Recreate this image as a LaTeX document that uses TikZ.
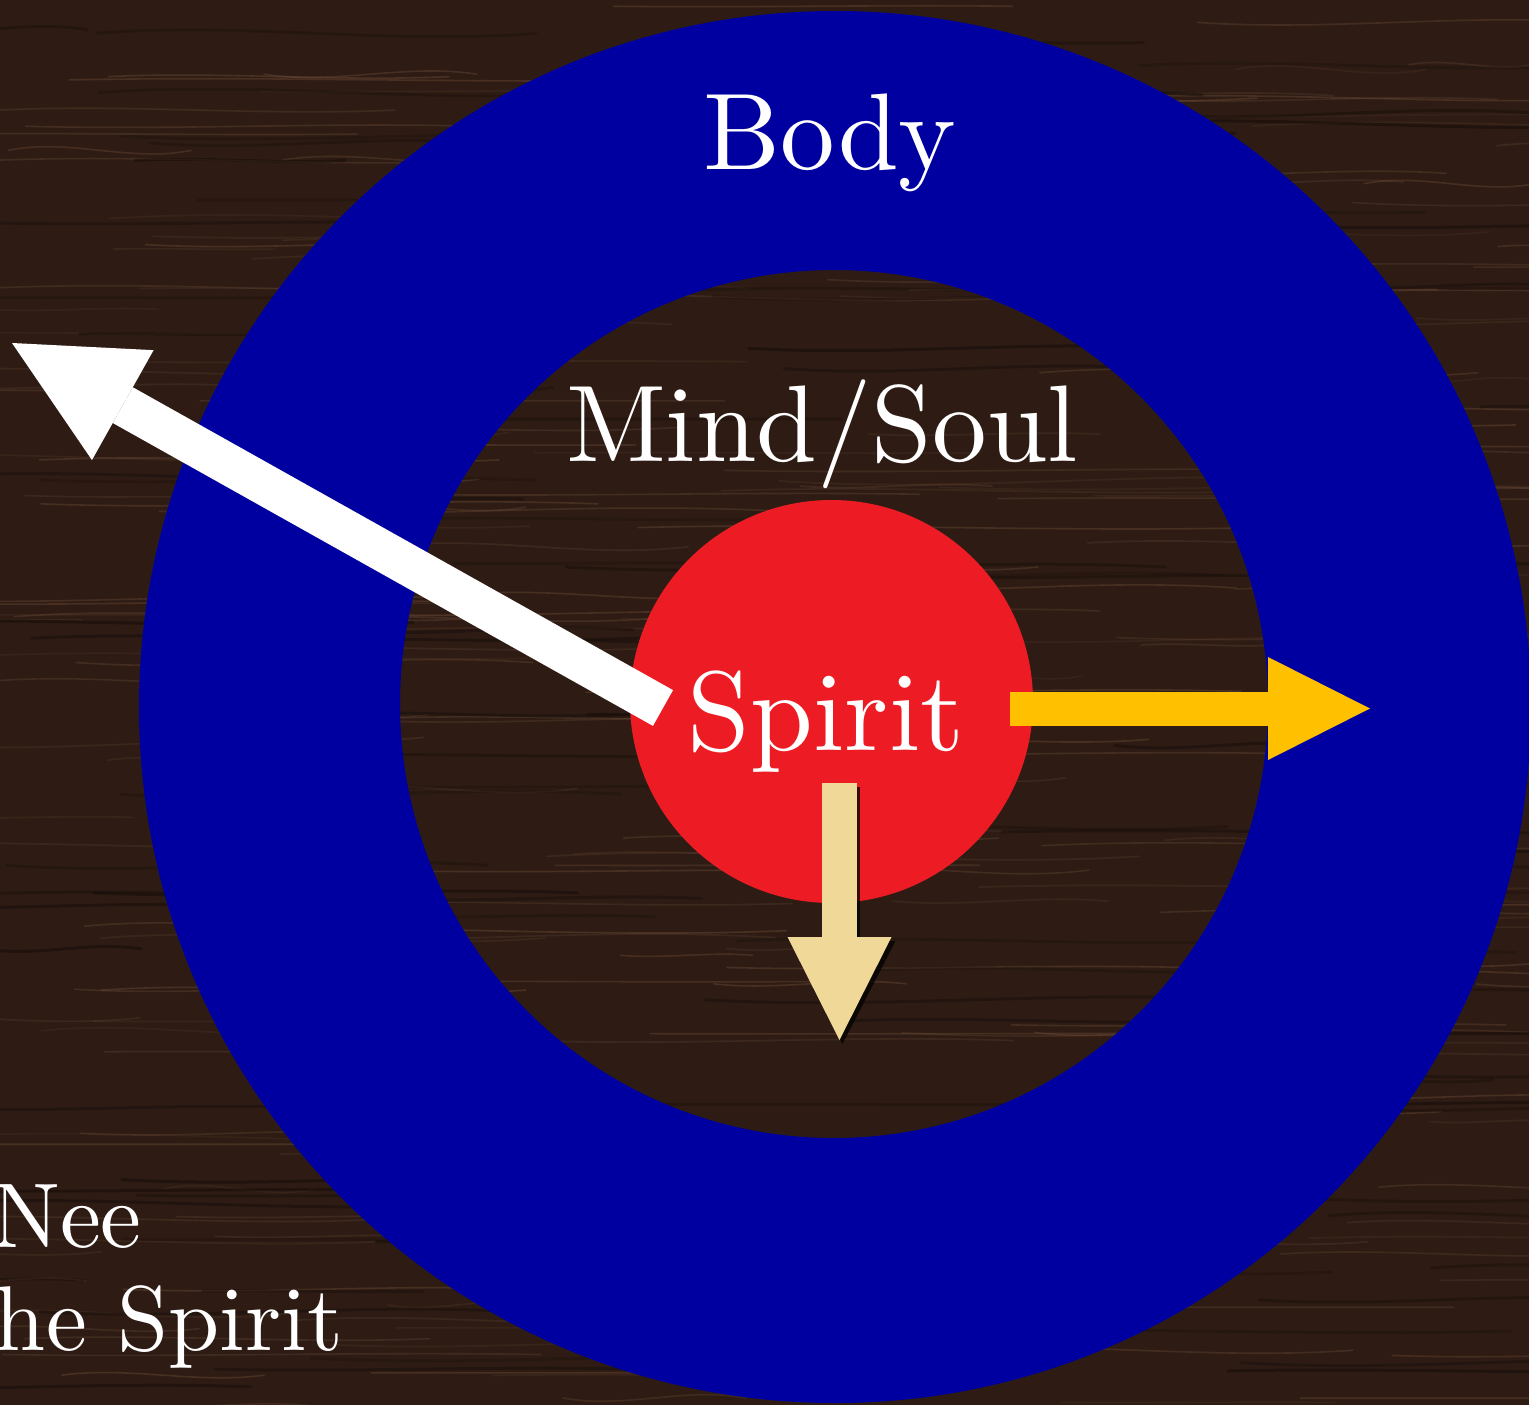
\documentclass[tikz,border=0pt]{standalone}
\usepackage{graphicx}
\usetikzlibrary{arrows.meta}
\definecolor{woodbg}{RGB}{46,28,20}
\definecolor{grainc}{RGB}{130,92,68}
\definecolor{graind}{RGB}{20,12,8}
\definecolor{ringblue}{RGB}{0,0,160}
\definecolor{spiritred}{RGB}{237,28,36}
\definecolor{arrowyellow}{RGB}{255,192,0}
\definecolor{arrowbeige}{RGB}{240,216,152}
\tikzset{
  grain/.style={grainc, line width=1.6pt, line cap=round},
  graindark/.style={graind, line width=3pt, line cap=round},
  biglabel/.style={text=white, inner sep=0pt, anchor=base, font=\fontsize{10}{12}\selectfont},
  smalllabel/.style={text=white, inner sep=0pt, anchor=base east, font=\fontsize{10}{12}\selectfont},
  fatarrow/.style={line cap=butt},
}
\begin{document}
\begin{tikzpicture}[x=1pt,y=-1pt]
\useasboundingbox (0,0) rectangle (1529,1405);
\clip (0,0) rectangle (1529,1405);
% wood background
\fill[woodbg] (0,0) rectangle (1529,1405);
\pgfmathsetseed{4242}
\foreach \i in {1,...,230}{
  \pgfmathsetmacro\xa{rnd*1700-200}
  \pgfmathsetmacro\ya{rnd*1420}
  \pgfmathsetmacro\ll{120+rnd*520}
  \pgfmathsetmacro\dd{(rnd-0.5)*26}
  \pgfmathsetmacro\op{0.10+rnd*0.22}
  \pgfmathsetmacro\xb{\xa+\ll/3}
  \pgfmathsetmacro\xc{\xa+2*\ll/3}
  \pgfmathsetmacro\xd{\xa+\ll}
  \pgfmathsetmacro\yb{\ya+\dd}
  \pgfmathsetmacro\yc{\ya-\dd}
  \draw[grain, opacity=\op] (\xa,\ya) .. controls (\xb,\yb) and (\xc,\yc) .. (\xd,\ya);
}
\foreach \i in {1,...,110}{
  \pgfmathsetmacro\xa{rnd*1700-200}
  \pgfmathsetmacro\ya{rnd*1420}
  \pgfmathsetmacro\ll{150+rnd*500}
  \pgfmathsetmacro\dd{(rnd-0.5)*24}
  \pgfmathsetmacro\op{0.25+rnd*0.3}
  \pgfmathsetmacro\xb{\xa+\ll/3}
  \pgfmathsetmacro\xc{\xa+2*\ll/3}
  \pgfmathsetmacro\xd{\xa+\ll}
  \pgfmathsetmacro\yb{\ya+\dd}
  \pgfmathsetmacro\yc{\ya-\dd}
  \draw[graindark, opacity=\op] (\xa,\ya) .. controls (\xb,\yb) and (\xc,\yc) .. (\xd,\ya);
}
% rings
\fill[ringblue, even odd rule] (835,707) circle[radius=696] (834,704) circle[radius=434];
\fill[spiritred] (831.5,701.5) circle[radius=201.5];
% arrows
\coordinate (wstart) at (663,708);
\coordinate (wtip) at (12,343);
\coordinate (ystart) at (1010,708.5);
\coordinate (ytip) at (1370,708.5);
\coordinate (bstart) at (839.5,783);
\coordinate (btip) at (839.5,1040);
\coordinate (bshstart) at (842.5,787);
\coordinate (bshtip) at (842.5,1044);
\draw[fatarrow, white, line width=41pt, -{Triangle[length=127pt,width=126pt,line width=0pt]}] (wstart) -- (wtip);
\draw[fatarrow, arrowyellow, line width=34pt, -{Triangle[length=102pt,width=103pt,line width=0pt]}] (ystart) -- (ytip);
\draw[fatarrow, black, opacity=0.75, line width=35pt, -{Triangle[length=103pt,width=106pt,line width=0pt]}] (bshstart) -- (bshtip);
\draw[fatarrow, arrowbeige, line width=35pt, -{Triangle[length=103pt,width=104pt,line width=0pt]}] (bstart) -- (btip);
% labels
\node[biglabel] (body) at (830,169) {\scalebox{10.9}{Body}};
\node[biglabel] (mind) at (822,461) {\scalebox{10.9}{Mind/Soul}};
\node[biglabel] (spirit) at (826,750) {\scalebox{11.3}{Spirit}};
\node[smalllabel] (nee) at (142,1247) {\scalebox{9.2}{Nee}};
\node[smalllabel] (hespirit) at (343,1350) {\scalebox{9.2}{he Spirit}};
\end{tikzpicture}
\end{document}
